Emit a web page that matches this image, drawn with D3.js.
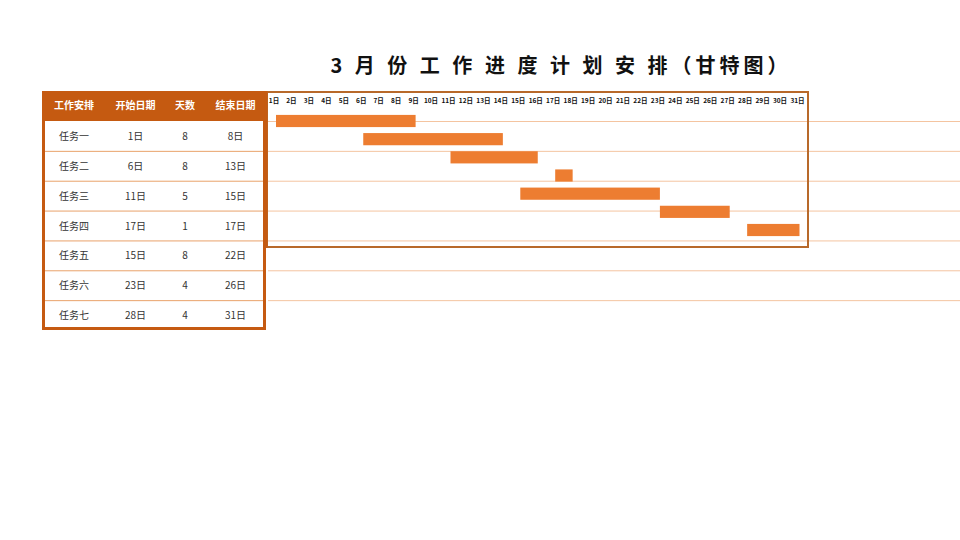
<!DOCTYPE html>
<html>
<head>
<meta charset="utf-8">
<script src="https://cdn.jsdelivr.net/npm/d3@7"></script>
<style>
  body { margin: 0; background: #fff; }
  svg { display: block; font-family: "Noto Sans CJK SC", sans-serif; }
</style>
</head>
<body>
<svg id="mainSvg" width="960" height="540"></svg>
<script>
// table / chart data
var tasks = ["任务一", "任务二", "任务三", "任务四", "任务五", "任务六", "任务七"];
var startDays = [1, 6, 11, 17, 15, 23, 28];
var durations = [8, 8, 5, 1, 8, 4, 4];
var endDays = [8, 13, 15, 17, 22, 26, 31];
var headers = ["工作安排", "开始日期", "天数", "结束日期"];
var dayLabels = d3.range(1, 32).map(function (d) { return d + "日"; });

var svg = d3.select("#mainSvg");
var dark = "#c55a11", bar = "#ed7d31", line = "#f4c4a0";

// title - spaces kept like the sheet cell
svg.append("text").attr("x", 561).attr("y", 73).attr("text-anchor", "middle")
    .style("white-space", "pre").style("letter-spacing", "4px")
    .style("font-size", "20px").style("font-weight", 700).style("fill", "#111")
    .text("3 月 份 工 作 进 度 计 划 安 排（甘特图）");

// sheet grid lines that run right of the table
var rowY = d3.scaleLinear().domain([0, 7]).range([121, 330]);
svg.selectAll(".gridline").data(d3.range(7)).enter().append("line")
    .attr("class", "gridline")
    .attr("x1", 268).attr("x2", 960)
    .attr("y1", function (d) { return rowY(d) + 0.5; }).attr("y2", function (d) { return rowY(d) + 0.5; })
    .style("stroke", line).style("stroke-width", 1);

// ---- table ----
var colX = [42, 106, 165, 205, 266];
var table = svg.append("g");
table.append("rect").attr("x", 42).attr("y", 91).attr("width", 224).attr("height", 30).style("fill", dark);
table.selectAll(".head").data(headers).enter().append("text")
    .attr("x", function (d, i) { return (colX[i] + colX[i + 1]) / 2; }).attr("y", 109)
    .attr("text-anchor", "middle").style("font-size", "10px").style("font-weight", 700).style("fill", "#fff")
    .text(function (d) { return d; });

var rows = tasks.map(function (t, i) {
    return [t, startDays[i] + "日", durations[i], endDays[i] + "日"];
});
rows.forEach(function (r, i) {
    table.selectAll(".cell" + i).data(r).enter().append("text")
        .attr("x", function (d, j) { return (colX[j] + colX[j + 1]) / 2; })
        .attr("y", rowY(i) + 19)
        .attr("text-anchor", "middle").style("font-size", "10px").style("fill", "#333")
        .text(function (d) { return d; });
    if (i > 0) {
        table.append("line").attr("x1", 43).attr("x2", 265)
            .attr("y1", rowY(i) + 0.5).attr("y2", rowY(i) + 0.5)
            .style("stroke", "#e9a26a").style("stroke-width", 1);
    }
});
table.append("rect").attr("x", 43.5).attr("y", 92.5).attr("width", 221).attr("height", 236)
    .style("fill", "none").style("stroke", dark).style("stroke-width", 3);

// ---- gantt ----
var x = d3.scaleLinear().domain([1, 31]).range([276, 799.5]).clamp(true);
var y = d3.scaleBand().domain(tasks).range([112, 239]).paddingInner(0.33).paddingOuter(0.16);

svg.append("rect").attr("x", 267).attr("y", 92).attr("width", 541).attr("height", 155)
    .style("fill", "none").style("stroke", "#b8692a").style("stroke-width", 2);
svg.append("line").attr("x1", 266).attr("x2", 266).attr("y1", 91).attr("y2", 248)
    .style("stroke", dark).style("stroke-width", 3);

svg.selectAll(".day").data(dayLabels).enter().append("text")
    .attr("class", "day")
    .attr("x", function (d, i) { return x(i + 1) - 2; }).attr("y", 103)
    .attr("text-anchor", "middle").style("font-size", "6.5px").style("font-weight", 700).style("fill", "#111")
    .text(function (d) { return d; });

svg.selectAll(".bar").data(tasks).enter().append("rect")
    .attr("class", "bar")
    .attr("x", function (d, i) { return x(startDays[i]); })
    .attr("y", function (d) { return y(d); })
    .attr("width", function (d, i) { return x(startDays[i] + durations[i]) - x(startDays[i]); })
    .attr("height", y.bandwidth())
    .style("fill", bar);
</script>
</body>
</html>
